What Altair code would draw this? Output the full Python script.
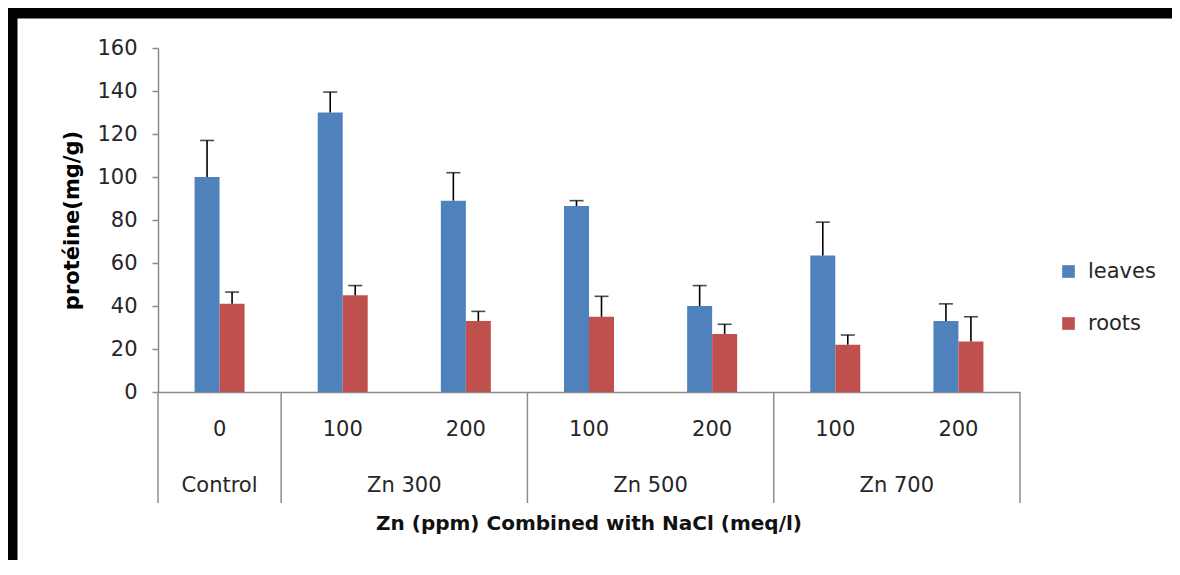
import altair as alt
import pandas as pd

# ---- data ----
groups = ["Control", "Zn 300", "Zn 300", "Zn 500", "Zn 500", "Zn 700", "Zn 700"]
nacl = ["0", "100", "200", "100", "200", "100", "200"]
leaves = [100, 130, 89, 86.5, 40, 63.5, 33]
leaves_err = [17, 9.5, 13, 2.5, 9.5, 15.5, 8]
roots = [41, 45, 33, 35, 27, 22, 23.5]
roots_err = [5.5, 4.5, 4.5, 9.5, 4.5, 4.5, 11.5]
series = ["leaves", "roots"]
colors = ["#4F81BD", "#C0504D"]
group_names = ["Control", "Zn 300", "Zn 500", "Zn 700"]
y_ticks = [0, 20, 40, 60, 80, 100, 120, 140, 160]
x_title = "Zn (ppm) Combined with NaCl (meq/l)"
y_title = "protéine(mg/g)"

FONT = "DejaVu Sans"
FS = 21
GRAY = "#8c8c8c"
TXT = "#262626"

W, H = 862, 344

keys = [f"{g} | {n}" for g, n in zip(groups, nacl)]
rows = []
for k, lv, le, rv, re_ in zip(keys, leaves, leaves_err, roots, roots_err):
    rows.append(dict(key=k, series="leaves", value=lv, top=lv + le))
    rows.append(dict(key=k, series="roots", value=rv, top=rv + re_))
df = pd.DataFrame(rows)

lab_df = pd.DataFrame({"key": keys, "nacl": nacl})
first_key = {}
for k, g in zip(keys, groups):
    first_key.setdefault(g, k)
grp_ctrl = pd.DataFrame({"key": [first_key["Control"]], "label": ["Control"]})
grp_other = pd.DataFrame({"key": [first_key[g] for g in group_names[1:]], "label": group_names[1:]})
sep_left = pd.DataFrame({"key": [first_key[g] for g in group_names]})
sep_right = pd.DataFrame({"key": [keys[-1]]})

xscale = alt.Scale(domain=keys, paddingInner=0, paddingOuter=0)
# two empty slots flank the pair of bars so they sit adjacent in the middle of each category
off_domain = ["_l"] + series + ["_r"]
xoff = alt.XOffset("series:N", scale=alt.Scale(domain=off_domain, paddingInner=0, paddingOuter=0.463))
yscale = alt.Scale(domain=[0, 160], nice=False)

x_axis = alt.Axis(labels=False, ticks=False, title=None, domainColor=GRAY, domainWidth=1.5)


def X(bp=None):
    if bp is None:
        return alt.X("key:N", scale=xscale, axis=x_axis, title=None)
    return alt.X("key:N", scale=xscale, axis=x_axis, title=None, bandPosition=bp)


y_axis = alt.Axis(values=y_ticks, grid=False, tickSize=6, tickColor=GRAY, domainColor=GRAY,
                  domainWidth=1.5, tickWidth=1.5, labelFontSize=FS, labelColor=TXT,
                  labelFont=FONT, labelPadding=15, titleFontSize=FS, titleFont=FONT,
                  titleFontWeight="bold", titleColor="#000000", titlePadding=14)

bars = alt.Chart(df).mark_bar().encode(
    x=X(), xOffset=xoff,
    y=alt.Y("value:Q", scale=yscale, title=y_title, axis=y_axis),
    color=alt.Color("series:N", scale=alt.Scale(domain=series, range=colors),
                    legend=alt.Legend(title=None, orient="none", legendX=900, legendY=213,
                                      symbolType="square", symbolSize=160, symbolStrokeWidth=0,
                                      labelFontSize=FS, labelFont=FONT, labelColor=TXT,
                                      rowPadding=30, labelOffset=9)),
)

err = alt.Chart(df).mark_rule(color="black", strokeWidth=1.6).encode(
    x=X(), xOffset=xoff, y=alt.Y("value:Q", scale=yscale, title=y_title, axis=y_axis), y2="top:Q")

caps = alt.Chart(df).mark_tick(color="black", thickness=1.6, size=14).encode(
    x=X(), xOffset=xoff, y=alt.Y("top:Q", scale=yscale, title=y_title, axis=y_axis))

row_labels = alt.Chart(lab_df).mark_text(fontSize=FS, font=FONT, color=TXT, baseline="middle").encode(
    x=X(), y=alt.value(382), text="nacl:N")

grp1 = alt.Chart(grp_ctrl).mark_text(fontSize=FS, font=FONT, color=TXT, baseline="middle").encode(
    x=X(0.5), y=alt.value(438), text="label:N")
grp2 = alt.Chart(grp_other).mark_text(fontSize=FS, font=FONT, color=TXT, baseline="middle").encode(
    x=X(1), y=alt.value(438), text="label:N")

sep1 = alt.Chart(sep_left).mark_rule(color=GRAY, strokeWidth=1.5).encode(
    x=X(0), y=alt.value(H), y2=alt.value(455))
sep2 = alt.Chart(sep_right).mark_rule(color=GRAY, strokeWidth=1.5).encode(
    x=X(1), y=alt.value(H), y2=alt.value(455))

xtitle = alt.Chart(pd.DataFrame({"t": [x_title]})).mark_text(
    fontSize=20, font=FONT, fontWeight="bold", color="#111111", baseline="middle").encode(
    x=alt.value(W / 2), y=alt.value(476), text="t:N")

# thick black frame: only its top and left sides fall inside the picture
one = pd.DataFrame({"f": [1]})
frame_top = alt.Chart(one).mark_rule(color="black", strokeWidth=11).encode(
    x=alt.value(-151), x2=alt.value(1014), y=alt.value(-35))
frame_left = alt.Chart(one).mark_rule(color="black", strokeWidth=11).encode(
    x=alt.value(-146), y=alt.value(-40), y2=alt.value(512))

chart = alt.layer(bars, err, caps, row_labels, grp1, grp2, sep1, sep2, xtitle,
                  frame_top, frame_left).properties(
    width=W, height=H,
    autosize=alt.AutoSizeParams(type="none"),
    padding={"left": 150, "top": 40, "right": 152, "bottom": 168},
).configure(background="white").configure_view(stroke=None)

chart.save("out.html", embed_options={"renderer": "svg", "actions": False})
